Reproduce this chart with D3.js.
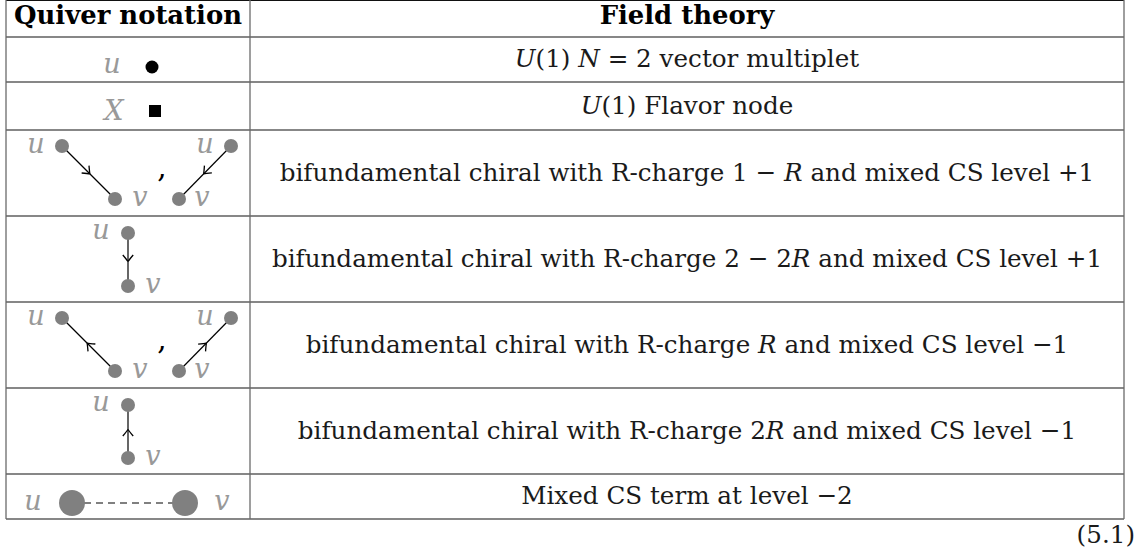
<!DOCTYPE html>
<html>
<head>
<meta charset="utf-8">
<script src="https://cdn.jsdelivr.net/npm/d3@7"></script>
<style>
  body { margin: 0; background: #fff; }
</style>
</head>
<body>
<div id="table"></div>
<script>

// Table content
var headers = ["Quiver notation", "Field theory"];
var quiverKinds = ["vector", "flavor", "diag", "vert", "diag", "vert", "mixed"];
// +1 : arrow points u -> v, -1 : arrow points v -> u
var arrowDirs = [0, 0, 1, 1, -1, -1, 0];
var nodeLabels = ["u", "v"];
var flavorLabel = "X";
// each description is a list of [text, italic?] pieces
var descriptions = [
    [["U", 1], ["(1) "], ["N", 1], [" = 2 vector multiplet"]],
    [["U", 1], ["(1) Flavor node"]],
    [["bifundamental chiral with R-charge 1 \u2212 "], ["R", 1], [" and mixed CS level +1"]],
    [["bifundamental chiral with R-charge 2 \u2212 2"], ["R", 1], [" and mixed CS level +1"]],
    [["bifundamental chiral with R-charge "], ["R", 1], [" and mixed CS level \u22121"]],
    [["bifundamental chiral with R-charge 2"], ["R", 1], [" and mixed CS level \u22121"]],
    [["Mixed CS term at level \u22122"]]
];
var equationLabel = "(5.1)";


/*
 * Layout
 */
var width = 1147, height = 558;
var colX = [6, 250, 1124];
var rowHeights = {header: 37, vector: 45, flavor: 48, diag: 86, vert: 86, mixed: 45};
var serif = "'DejaVu Serif', 'Liberation Serif', serif";
var fontSize = 21;
var nodeColor = "#808080", labelColor = "#999";

var svg = d3.select("#table").append("svg")
    .attr("width", width)
    .attr("height", height)
    .style("font-family", serif);

svg.append("rect")
    .attr("width", width)
    .attr("height", height)
    .attr("fill", "#fff");

// row boundaries
var kinds = ["header"].concat(quiverKinds);
var rowY = [0];
kinds.forEach(function(k) { rowY.push(rowY[rowY.length - 1] + rowHeights[k]); });

var y = d3.scaleOrdinal().domain(d3.range(rowY.length)).range(rowY);
var x = d3.scaleOrdinal().domain([0, 1, 2]).range(colX);

// Grid lines
svg.selectAll(".hline")
    .data(d3.range(rowY.length))
    .enter().append("line")
    .attr("class", "hline")
    .attr("x1", x(0))
    .attr("x2", x(2))
    .attr("y1", function(i) { return Math.max(0.5, y(i)); })
    .attr("y2", function(i) { return Math.max(0.5, y(i)); })
    .attr("stroke", "#111")
    .attr("stroke-width", 1.1);

svg.selectAll(".vline")
    .data([0, 1, 2])
    .enter().append("line")
    .attr("class", "vline")
    .attr("x1", function(i) { return x(i); })
    .attr("x2", function(i) { return x(i); })
    .attr("y1", 0)
    .attr("y2", y(rowY.length - 1))
    .attr("stroke", "#6a6a6a")
    .attr("stroke-width", 1.3);

// Descriptions
var descText = svg.selectAll(".desc")
    .data(descriptions)
    .enter().append("text")
    .attr("class", "desc")
    .attr("x", (x(1) + x(2)) / 2)
    .attr("y", function(d, i) { return (y(i + 1) + y(i + 2)) / 2 + 7.5; })
    .attr("text-anchor", "middle")
    .attr("font-size", fontSize)
    .attr("fill", "#1a1a1a");

descText.selectAll("tspan")
    .data(function(d) { return d; })
    .enter().append("tspan")
    .attr("font-style", function(d) { return d[1] ? "italic" : null; })
    .text(function(d) { return d[0]; });

// fit the longest line to the width it has in the original
var longest = d3.max(descText.nodes(), function(n) { return n.getComputedTextLength(); });
fontSize = fontSize * 831 / longest;
descText.attr("font-size", fontSize);

// Headers
svg.selectAll(".header")
    .data(headers)
    .enter().append("text")
    .attr("class", "header")
    .attr("x", function(d, i) { return (x(i) + x(i + 1)) / 2; })
    .attr("y", (y(0) + y(1)) / 2 + 5.5)
    .attr("text-anchor", "middle")
    .attr("font-weight", "bold")
    .attr("font-size", fontSize * 1.05)
    .text(function(d) { return d; });

// Equation number
svg.append("text")
    .attr("x", 1135)
    .attr("y", 543)
    .attr("text-anchor", "end")
    .attr("font-size", fontSize)
    .attr("fill", "#1a1a1a")
    .text(equationLabel);


/*
 * Quiver diagrams
 */
function label(g, txt, cx, by) {
    g.append("text")
        .attr("x", cx)
        .attr("y", by)
        .attr("text-anchor", "middle")
        .attr("font-style", "italic")
        .attr("font-size", fontSize * 1.1)
        .attr("fill", labelColor)
        .text(txt);
}

function node(g, cx, cy, r) {
    g.append("circle")
        .attr("cx", cx)
        .attr("cy", cy)
        .attr("r", r)
        .attr("fill", nodeColor);
}

// edge from (x1,y1) to (x2,y2) with a mid arrow pointing toward (x2,y2)
function arrowEdge(g, x1, y1, x2, y2) {
    g.append("line")
        .attr("x1", x1).attr("y1", y1)
        .attr("x2", x2).attr("y2", y2)
        .attr("stroke", "#000")
        .attr("stroke-width", 1.2);

    var dx = x2 - x1, dy = y2 - y1, L = Math.sqrt(dx * dx + dy * dy);
    var ux = dx / L, uy = dy / L, px = -uy, py = ux;
    var mx = (x1 + x2) / 2 + ux * 2, my = (y1 + y2) / 2 + uy * 2;
    var back = 6.5, wide = 5.2;
    var p = d3.path();
    p.moveTo(mx - ux * back + px * wide, my - uy * back + py * wide);
    p.quadraticCurveTo(mx - ux * 1.8 + px * 1.2, my - uy * 1.8 + py * 1.2, mx, my);
    p.moveTo(mx - ux * back - px * wide, my - uy * back - py * wide);
    p.quadraticCurveTo(mx - ux * 1.8 - px * 1.2, my - uy * 1.8 - py * 1.2, mx, my);
    g.append("path")
        .attr("d", p.toString())
        .attr("fill", "none")
        .attr("stroke", "#000")
        .attr("stroke-width", 1.3);
}

quiverKinds.forEach(function(kind, i) {
    var top = y(i + 1);
    var g = svg.append("g").attr("class", "quiver");
    var dir = arrowDirs[i];

    if (kind === "vector") {
        label(g, nodeLabels[0], 112, top + 36);
        g.append("circle")
            .attr("cx", 152).attr("cy", top + 30)
            .attr("r", 6.5)
            .attr("fill", "#000");
    }
    else if (kind === "flavor") {
        label(g, flavorLabel, 114, top + 38);
        g.append("rect")
            .attr("x", 149).attr("y", top + 23)
            .attr("width", 12).attr("height", 12)
            .attr("fill", "#000");
    }
    else if (kind === "diag") {
        var uy = top + 16, vy = top + 69;
        var pairs = [[62, 115], [231, 179]];
        pairs.forEach(function(pr) {
            if (dir > 0) arrowEdge(g, pr[0], uy, pr[1], vy);
            else arrowEdge(g, pr[1], vy, pr[0], uy);
            node(g, pr[0], uy, 7);
            node(g, pr[1], vy, 7);
        });
        label(g, nodeLabels[0], 36, uy + 7);
        label(g, nodeLabels[1], 140, vy + 7);
        label(g, nodeLabels[0], 205, uy + 7);
        label(g, nodeLabels[1], 202, vy + 7);
        g.append("text")
            .attr("x", 162).attr("y", top + 47)
            .attr("text-anchor", "middle")
            .attr("font-size", fontSize * 1.2)
            .text(",");
    }
    else if (kind === "vert") {
        var uy2 = top + 17, vy2 = top + 70;
        if (dir > 0) arrowEdge(g, 128, uy2, 128, vy2);
        else arrowEdge(g, 128, vy2, 128, uy2);
        node(g, 128, uy2, 7);
        node(g, 128, vy2, 7);
        label(g, nodeLabels[0], 101, uy2 + 6);
        label(g, nodeLabels[1], 153, vy2 + 7);
    }
    else if (kind === "mixed") {
        var cy = top + 29;
        g.append("line")
            .attr("x1", 72).attr("x2", 185)
            .attr("y1", cy).attr("y2", cy)
            .attr("stroke", nodeColor)
            .attr("stroke-width", 2)
            .attr("stroke-dasharray", "7,5");
        node(g, 72, cy, 13);
        node(g, 185, cy, 13);
        label(g, nodeLabels[0], 33, cy + 7);
        label(g, nodeLabels[1], 222, cy + 7);
    }
});

</script>
</body>
</html>
